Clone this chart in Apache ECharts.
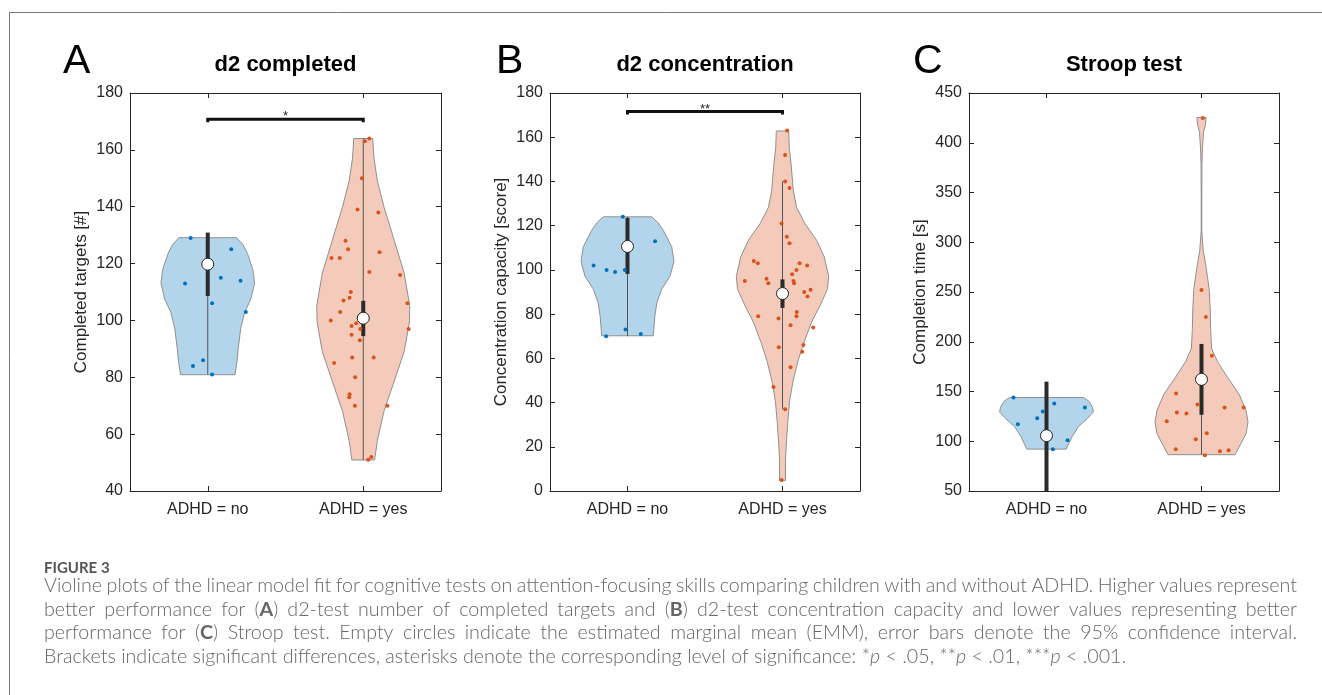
<!DOCTYPE html>
<html lang="en">
<head>
<meta charset="UTF-8">
<title>Violin plots ADHD</title>
<script src="https://cdn.jsdelivr.net/npm/echarts@6/dist/echarts.min.js"></script>
<style>body{margin:0;background:#fff;}</style>
</head>
<body>
<div id="main" style="width:1322px;height:695px;"></div>
<script>
// groups and panel texts
var groups = ['ADHD = no', 'ADHD = yes'];
var panelLetters = ['A', 'B', 'C'];
var panelTitles = ['d2 completed', 'd2 concentration', 'Stroop test'];
var yNames = ['Completed targets [#]', 'Concentration capacity [score]', 'Completion time [s]'];
var yMin = [40, 0, 50];
var yMax = [180, 180, 450];
var yStep = [20, 20, 50];

// violin outlines: [value, half width (category units)]
var violinA_no = [[129.1, 0.186], [126.5, 0.228], [123.6, 0.255], [117.9, 0.290], [113.2, 0.301], [107.5, 0.277],
  [102.8, 0.237], [97.1, 0.212], [90.1, 0.196], [85.5, 0.188], [80.9, 0.175]];
var violinA_yes = [[164, 0.061], [157.1, 0.069], [149.0, 0.091], [139.8, 0.134], [128.2, 0.199], [116.7, 0.263],
  [105.2, 0.299], [99.4, 0.297], [89.0, 0.263], [78.6, 0.199], [68.2, 0.134], [57.8, 0.091], [50.9, 0.073]];
var violinB_no = [[124, 0.156], [121.5, 0.195], [117.9, 0.231], [110.5, 0.285], [103.8, 0.300], [97.1, 0.274],
  [91.2, 0.220], [85.3, 0.190], [79.3, 0.177], [73.4, 0.170], [70.2, 0.167]];
var violinB_yes = [[162.8, 0.040], [155.0, 0.044], [147.5, 0.056], [135.7, 0.070], [128.3, 0.091], [120.9, 0.145],
  [113.4, 0.220], [106.0, 0.269], [97.1, 0.298], [91.2, 0.290], [83.8, 0.242], [76.4, 0.188], [67.5, 0.140],
  [58.6, 0.099], [49.7, 0.068], [40.8, 0.046], [31.9, 0.035], [23.0, 0.026], [14.1, 0.019], [4.8, 0.019]];
var violinC_no = [[144, 0.239], [140, 0.275], [134.2, 0.297], [129.3, 0.302], [122.7, 0.263], [114.5, 0.205],
  [104.6, 0.165], [98.0, 0.145], [92.1, 0.127]];
var violinC_yes = [[425.3, 0.030], [418, 0.025], [410.5, 0.013], [394, 0.006], [378, 0.003], [345, 0.002],
  [312, 0.002], [292, 0.011], [272.4, 0.032], [252.6, 0.050], [232.9, 0.056], [213.2, 0.059], [193.4, 0.065],
  [180.3, 0.102], [163.8, 0.170], [147.4, 0.242], [131.1, 0.287], [119.4, 0.300], [107.9, 0.288], [98.0, 0.255],
  [86.5, 0.216]];

// individual children: [jitter offset, value]
var pointsA_no = [[-0.110, 129], [0.151, 125], [-0.146, 113], [0.084, 115], [0.211, 114], [0.028, 106],
  [0.245, 103], [-0.030, 86], [-0.095, 84], [0.028, 81]];
var pointsA_yes = [[0.039, 164], [0.011, 163], [-0.009, 150], [-0.037, 139], [0.097, 138], [-0.114, 128],
  [-0.097, 125], [-0.204, 122], [-0.151, 122], [0.105, 124], [0.039, 117], [0.237, 116], [-0.080, 110],
  [-0.088, 108], [-0.127, 107], [-0.148, 103], [0.284, 106], [-0.209, 100], [-0.045, 99], [-0.075, 98],
  [-0.019, 97], [0.292, 97], [-0.075, 95], [-0.022, 93], [-0.187, 85], [-0.071, 87], [0.067, 87],
  [-0.052, 80], [-0.088, 74], [-0.090, 73], [-0.054, 70], [0.155, 70], [0.052, 52], [0.032, 51]];
var pointsB_no = [[-0.030, 124], [0.178, 113], [-0.219, 102], [-0.135, 100], [-0.080, 99], [-0.017, 100],
  [-0.013, 73], [0.086, 71], [-0.138, 70]];
var pointsB_yes = [[0.030, 163], [0.017, 152], [0.017, 140], [0.045, 137], [-0.006, 121], [0.028, 115],
  [0.045, 112], [-0.185, 104], [-0.159, 103], [0.110, 103], [0.159, 102], [0.090, 100], [0.062, 98],
  [-0.243, 95], [-0.103, 96], [-0.092, 94], [0.071, 95], [0.075, 94], [0.181, 91], [0.140, 90], [0.161, 88],
  [-0.157, 79], [0.092, 81], [0.090, 79], [-0.026, 78], [0.052, 75], [0.198, 74], [0.135, 66], [0.127, 63],
  [-0.024, 65], [0.052, 56], [-0.058, 47], [0.017, 37], [-0.006, 5]];
var pointsC_no = [[-0.213, 144], [0.050, 138], [0.248, 134], [-0.024, 130], [-0.060, 123], [-0.185, 117],
  [0.136, 101], [0.041, 92]];
var pointsC_yes = [[0.009, 425], [0, 252], [0.028, 225], [0.067, 186], [-0.164, 148], [-0.026, 137],
  [-0.159, 129], [-0.097, 128], [0.149, 134], [0.272, 134], [-0.224, 120], [0.034, 108], [-0.037, 102],
  [-0.166, 92], [0.119, 90], [0.175, 91], [0.022, 86]];

// estimated marginal means, 95% CI, whiskers
var emm = [[119.8, 100.8], [110.6, 89.3], [105.6, 162.2]];
var ciLow = [[108.6, 94.5], [98.2, 82.8], [50, 126.6]];
var ciHigh = [[130.9, 106.9], [123.5, 95.7], [159.9, 197.7]];
var whiskLow = [[81, 51], [70, 37], [92, 86.5]];
var whiskHigh = [[129, 164], [124, 140], [144, 198]];
var bracketY = [170.8, 171.6, null];
var stars = ['*', '**', ''];

var capLines = [
  'Violine plots of the linear model fit for cognitive tests on attention-focusing skills comparing children with and without ADHD. Higher values represent',
  'better performance for (A) d2-test number of completed targets and (B) d2-test concentration capacity and lower values representing better',
  'performance for (C) Stroop test. Empty circles indicate the estimated marginal mean (EMM), error bars denote the 95% confidence interval.',
  'Brackets indicate significant differences, asterisks denote the corresponding level of significance: *p < .05, **p < .01, ***p < .001.'
];

var violins = [[violinA_no, violinA_yes], [violinB_no, violinB_yes], [violinC_no, violinC_yes]];
var points = [[pointsA_no, pointsA_yes], [pointsB_no, pointsB_yes], [pointsC_no, pointsC_yes]];

var fam = "'Liberation Sans', Arial, sans-serif";
var capFam = "Lato, 'Open Sans', sans-serif";
var axisCol = '#262626';
var fills = ['#B3D5EB', '#F4CBBA'];
var dots = ['#0072BD', '#D95319'];
var grids = [{left: 130, width: 311}, {left: 550, width: 310}, {left: 969, width: 310}];

function violinItem(i, g) {
  return function (params, api) {
    var prof = violins[i][g], c = g + 1, pts = [];
    prof.forEach(function (p) { pts.push(api.coord([c + p[1], p[0]])); });
    for (var k = prof.length - 1; k >= 0; k--) pts.push(api.coord([c - prof[k][1], prof[k][0]]));
    var w1 = api.coord([c, whiskLow[i][g]]), w2 = api.coord([c, whiskHigh[i][g]]);
    return {type: 'group', children: [
      {type: 'polygon', shape: {points: pts}, style: {fill: fills[g], stroke: '#8f8f8f', lineWidth: 1}},
      {type: 'line', shape: {x1: w1[0], y1: w1[1], x2: w2[0], y2: w2[1]}, style: {stroke: '#555', lineWidth: 1}}
    ]};
  };
}

function emmItem(i, g) {
  return function (params, api) {
    var c = g + 1;
    var a = api.coord([c, ciLow[i][g]]), b = api.coord([c, ciHigh[i][g]]), m = api.coord([c, emm[i][g]]);
    return {type: 'group', children: [
      {type: 'line', shape: {x1: a[0], y1: a[1], x2: b[0], y2: b[1]}, style: {stroke: '#2b2b2b', lineWidth: 4}},
      {type: 'circle', shape: {cx: m[0], cy: m[1], r: 6}, style: {fill: '#fff', stroke: '#222', lineWidth: 1}}
    ]};
  };
}

function bracketItem(i) {
  return function (params, api) {
    var a = api.coord([1, bracketY[i]]), b = api.coord([2, bracketY[i]]);
    return {type: 'group', children: [
      {type: 'polyline', shape: {points: [[a[0], a[1] + 3], [a[0], a[1]], [b[0], b[1]], [b[0], b[1] + 3]]},
        style: {stroke: '#111', lineWidth: 3, fill: null}},
      {type: 'text', x: (a[0] + b[0]) / 2, y: a[1] + 4,
        style: {text: stars[i], font: '13px ' + fam, fill: axisCol, textAlign: 'center', align: 'center',
          textVerticalAlign: 'bottom', verticalAlign: 'bottom'}}
    ]};
  };
}

var option = {
  animation: false,
  textStyle: {fontFamily: fam},
  grid: [], xAxis: [], yAxis: [], series: [], graphic: []
};

for (var i = 0; i < 3; i++) {
  option.grid.push({left: grids[i].left, width: grids[i].width, top: 93, height: 398});
  option.xAxis.push({
    gridIndex: i, type: 'value', min: 0.5, max: 2.5, position: 'bottom',
    axisLine: {onZero: false, lineStyle: {color: axisCol, width: 1}},
    axisTick: {inside: true, length: 5, customValues: [1, 2], lineStyle: {color: axisCol}},
    axisLabel: {customValues: [1, 2], margin: 11, fontSize: 16, color: axisCol, fontFamily: fam,
      formatter: function (v) { return groups[Math.round(v) - 1]; }},
    splitLine: {show: false}
  });
  option.xAxis.push({
    gridIndex: i, type: 'value', min: 0.5, max: 2.5, position: 'top',
    axisLine: {onZero: false, lineStyle: {color: axisCol, width: 1}},
    axisTick: {inside: true, length: 5, customValues: [1, 2], lineStyle: {color: axisCol}},
    axisLabel: {show: false}, splitLine: {show: false}
  });
  option.yAxis.push({
    gridIndex: i, type: 'value', min: yMin[i], max: yMax[i], interval: yStep[i], position: 'left',
    name: yNames[i], nameLocation: 'middle', nameGap: 40,
    nameTextStyle: {fontSize: 17, color: axisCol, fontFamily: fam},
    axisLine: {show: true, onZero: false, lineStyle: {color: axisCol, width: 1}},
    axisTick: {show: true, inside: true, length: 5, lineStyle: {color: axisCol}},
    axisLabel: {margin: 7, fontSize: 16, color: axisCol, fontFamily: fam},
    splitLine: {show: false}
  });
  option.yAxis.push({
    gridIndex: i, type: 'value', min: yMin[i], max: yMax[i], interval: yStep[i], position: 'right',
    axisLine: {show: true, onZero: false, lineStyle: {color: axisCol, width: 1}},
    axisTick: {show: true, inside: true, length: 5, lineStyle: {color: axisCol}},
    axisLabel: {show: false}, splitLine: {show: false}
  });

  for (var g = 0; g < 2; g++) {
    option.series.push({type: 'custom', xAxisIndex: 2 * i, yAxisIndex: 2 * i, silent: true, clip: true,
      data: [[g + 1, emm[i][g]]], renderItem: violinItem(i, g)});
    option.series.push({type: 'scatter', xAxisIndex: 2 * i, yAxisIndex: 2 * i, silent: true,
      symbolSize: 4, itemStyle: {color: dots[g], opacity: 1},
      data: points[i][g].map(function (p) { return [g + 1 + p[0], p[1]]; })});
    option.series.push({type: 'custom', xAxisIndex: 2 * i, yAxisIndex: 2 * i, silent: true, clip: true,
      data: [[g + 1, emm[i][g]]], renderItem: emmItem(i, g)});
  }
  if (bracketY[i] != null) {
    option.series.push({type: 'custom', xAxisIndex: 2 * i, yAxisIndex: 2 * i, silent: true,
      data: [[1.5, bracketY[i]]], renderItem: bracketItem(i)});
  }

  var cx = grids[i].left + grids[i].width / 2;
  option.graphic.push({type: 'text', x: cx, y: 65,
    style: {text: panelTitles[i], font: 'bold 22px ' + fam, fill: '#000', textAlign: 'center', align: 'center',
      textVerticalAlign: 'middle', verticalAlign: 'middle'}});
}

var letterX = [63, 496, 913];
panelLetters.forEach(function (t, i) {
  option.graphic.push({type: 'text', x: letterX[i], y: 62,
    style: {text: t, font: '41px ' + fam, fill: '#000', textAlign: 'left', align: 'left',
      textVerticalAlign: 'middle', verticalAlign: 'middle'}});
});

// frame
option.graphic.push({type: 'line', shape: {x1: 9.5, y1: 12.5, x2: 1322, y2: 12.5}, style: {stroke: '#777', lineWidth: 1}});
option.graphic.push({type: 'line', shape: {x1: 9.5, y1: 12.5, x2: 9.5, y2: 695}, style: {stroke: '#777', lineWidth: 1}});

// caption (justified word by word)
var ctx = document.createElement('canvas').getContext('2d');
function fontStr(st, fs) { return (st === 'b' ? 'bold ' : st === 'i' ? 'italic 300 ' : '300 ') + fs + 'px ' + capFam; }
function segs(word) {
  var m = word.match(/^\(([A-C])\)$/);
  if (m) return [['(', 'n'], [m[1], 'b'], [')', 'n']];
  m = word.match(/^(\*+)p$/);
  if (m) return [[m[1], 'n'], ['p', 'i']];
  return [[word, 'n']];
}
function segW(s, fs) { ctx.font = fontStr(s[1], fs); return ctx.measureText(s[0]).width; }
function wordW(w, fs) { return segs(w).reduce(function (s, sg) { return s + segW(sg, fs); }, 0); }
function lineW(line, fs) {
  var ws = line.split(' ');
  return ws.reduce(function (s, w) { return s + wordW(w, fs); }, 0) + (ws.length - 1) * segW([' ', 'n'], fs);
}
var capLeft = 44, capRight = 1297;
var capFs = Math.max(12, Math.min(20, 100 * 1083 / lineW(capLines[3], 100)));
var capY = [586, 609.5, 633, 656.5];
option.graphic.push({type: 'text', x: capLeft, y: 568,
  style: {text: 'FIGURE 3', font: 'bold 15px ' + capFam, fill: '#555', textAlign: 'left', align: 'left',
    textVerticalAlign: 'middle', verticalAlign: 'middle'}});
capLines.forEach(function (line, k) {
  var ws = line.split(' ');
  var total = ws.reduce(function (s, w) { return s + wordW(w, capFs); }, 0);
  var gap = k < 3 ? (capRight - capLeft - total) / (ws.length - 1) : segW([' ', 'n'], capFs);
  var x = capLeft;
  ws.forEach(function (w) {
    segs(w).forEach(function (sg) {
      option.graphic.push({type: 'text', x: x, y: capY[k],
        style: {text: sg[0], font: fontStr(sg[1], capFs), fill: '#666', textAlign: 'left', align: 'left',
          textVerticalAlign: 'middle', verticalAlign: 'middle'}});
      x += segW(sg, capFs);
    });
    x += gap;
  });
});

var myChart = echarts.init(document.getElementById('main'));
myChart.setOption(option);
</script>
</body>
</html>
